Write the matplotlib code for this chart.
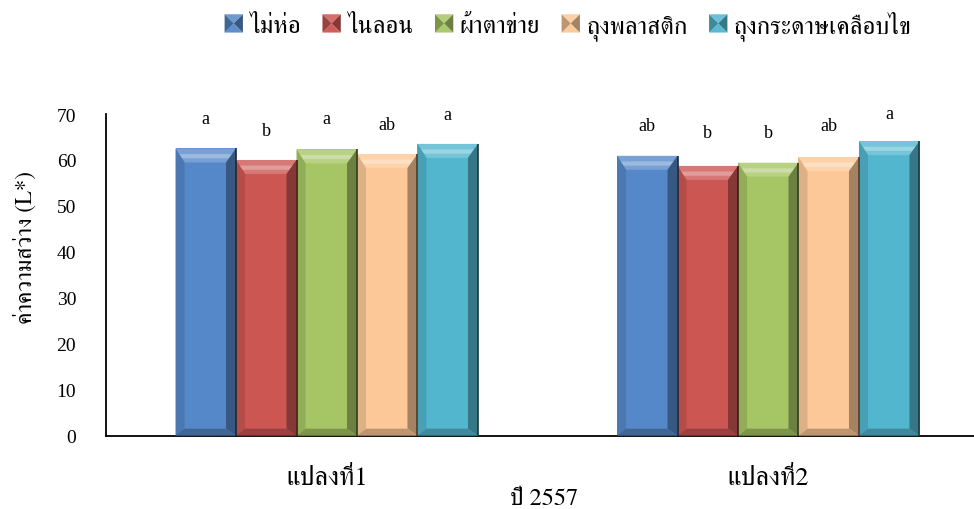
import matplotlib
matplotlib.use("Agg")
import matplotlib.pyplot as plt
import numpy as np
from matplotlib.patches import Polygon, Rectangle
from matplotlib.legend_handler import HandlerBase
from matplotlib.colors import to_rgb

# ---------------- data ----------------
categories = ['แปลงที่1', 'แปลงที่2']
series = ['ไม่ห่อ', 'ไนลอน', 'ผ้าตาข่าย', 'ถุงพลาสติก', 'ถุงกระดาษเคลือบไข']
v_nowrap = [62.5, 60.9]
v_nylon = [60.0, 58.7]
v_mesh = [62.3, 59.4]
v_plastic = [61.3, 60.6]
v_waxpaper = [63.5, 64.1]
values = [v_nowrap, v_nylon, v_mesh, v_plastic, v_waxpaper]
letters = [['a', 'ab'], ['b', 'b'], ['a', 'b'], ['ab', 'ab'], ['a', 'a']]
letter_y = [[69.1, 67.4], [66.5, 65.9], [69.1, 65.9], [67.8, 67.4], [70.0, 70.2]]
yticks = [0, 10, 20, 30, 40, 50, 60, 70]
ylabel = 'ค่าความสว่าง (L*)'
xlabel = 'ปี 2557'

colors = ['#5588C8', '#CC5652', '#A6C564', '#FCC897', '#52B6CF']

FONT = ['FreeSerif', 'Liberation Serif', 'DejaVu Serif']
LATIN = ['Liberation Serif', 'FreeSerif', 'DejaVu Serif']
plt.rcParams['font.family'] = FONT


def mix(c, other, t):
    c = np.array(to_rgb(c))
    o = np.array(to_rgb(other))
    return tuple(c * (1 - t) + o * t)


fig = plt.figure(figsize=(9.74, 5.10), dpi=100)
W, H = 974, 510
ax = fig.add_axes([106 / W, 73.3 / H, 883 / W, 321.7 / H])

x = np.arange(len(categories))
bw = 0.137
n = len(series)
ax.set_xlim(-0.5, len(categories) - 0.5)
ax.set_ylim(0, 70)

# bevel sizes in pixels -> data units
px_x = (len(categories)) / 883.0
px_y = 70 / 321.7
bx_l, bx_r = 9 * px_x, 10 * px_x
by_t, by_b = 14 * px_y, 7 * px_y

for i, (name, vals, col) in enumerate(zip(series, values, colors)):
    pos = x + (i - (n - 1) / 2) * bw
    bars = ax.bar(pos, vals, width=bw, color=col, edgecolor='none', zorder=2, label=name)
    for b, lab, ly in zip(bars, letters[i], letter_y[i]):
        x0, w, h = b.get_x(), b.get_width(), b.get_height()
        x1 = x0 + w
        top = Polygon([(x0, h), (x1, h), (x1 - bx_r, h - by_t), (x0 + bx_l, h - by_t)],
                      closed=True, facecolor=mix(col, 'white', 0.2), edgecolor='none', zorder=3)
        topline = Polygon([(x0 + bx_l * 0.4, h - by_t * 0.4), (x1 - bx_r * 0.4, h - by_t * 0.4),
                           (x1 - bx_r * 0.7, h - by_t * 0.7), (x0 + bx_l * 0.7, h - by_t * 0.7)],
                          closed=True, facecolor=mix(col, 'white', 0.42), edgecolor='none', zorder=3)
        left = Polygon([(x0, 0), (x0, h), (x0 + bx_l, h - by_t), (x0 + bx_l, by_b)],
                       closed=True, facecolor=mix(col, 'black', 0.12), edgecolor='none', zorder=3)
        right = Polygon([(x1, 0), (x1, h), (x1 - bx_r, h - by_t), (x1 - bx_r, by_b)],
                        closed=True, facecolor=mix(col, 'black', 0.35), edgecolor='none', zorder=3)
        bottom = Polygon([(x0, 0), (x1, 0), (x1 - bx_r, by_b), (x0 + bx_l, by_b)],
                         closed=True, facecolor=mix(col, 'black', 0.25), edgecolor='none', zorder=3)
        for p in (top, topline, left, right, bottom):
            ax.add_patch(p)
        ax.plot([x1, x1], [0, h], color=mix(col, 'black', 0.7), lw=1.2, zorder=4,
                solid_capstyle='butt')
        ax.text(b.get_x() + w / 2, ly, lab, ha='center', va='center', fontsize=13,
                family=LATIN, color='black', zorder=5)

ax.set_yticks(yticks)
ax.set_yticklabels([str(t) for t in yticks], family=LATIN, fontsize=14)
ax.tick_params(axis='y', length=0, pad=21.5)
ax.set_xticks(x)
ax.set_xticklabels(categories, fontsize=19)
ax.tick_params(axis='x', length=0, pad=22)

for s in ('top', 'right'):
    ax.spines[s].set_visible(False)
ax.spines['left'].set_linewidth(1.3)
ax.spines['bottom'].set_linewidth(1.3)

fig.text(25 / W, 1 - 248 / H, ylabel, rotation=90, ha='center', va='center', fontsize=16.5)
fig.text(544 / W, 1 - 499 / H, xlabel, ha='center', va='center', fontsize=17.5)


class BevelHandler(HandlerBase):
    def __init__(self, color):
        super().__init__()
        self.color = color

    def create_artists(self, legend, orig_handle, xdescent, ydescent, width, height, fontsize, trans):
        s = min(width, height)
        x0 = -xdescent + (width - s) / 2
        y0 = -ydescent + (height - s) / 2
        c = self.color
        cx, cy = x0 + s / 2, y0 + s / 2
        arts = []
        pts = {
            'top': [(x0, y0 + s), (x0 + s, y0 + s), (cx, cy)],
            'bottom': [(x0, y0), (x0 + s, y0), (cx, cy)],
            'left': [(x0, y0), (x0, y0 + s), (cx, cy)],
            'right': [(x0 + s, y0), (x0 + s, y0 + s), (cx, cy)],
        }
        shade = {'top': mix(c, 'white', 0.15), 'bottom': mix(c, 'white', 0.05),
                 'left': mix(c, 'black', 0.25), 'right': mix(c, 'black', 0.35)}
        for k, p in pts.items():
            arts.append(Polygon(p, closed=True, facecolor=shade[k], edgecolor='none', transform=trans))
        return arts


handles = [Rectangle((0, 0), 1, 1, color=c) for c in colors]
hmap = {h: BevelHandler(c) for h, c in zip(handles, colors)}
fig.legend(handles, series, handler_map=hmap, loc='center', bbox_to_anchor=(568 / W, 1 - 26 / H),
           ncol=5, frameon=False, fontsize=18, handlelength=0.75, handleheight=0.75,
           handletextpad=0.25, columnspacing=0.85, borderaxespad=0)

fig.savefig('out.png', dpi=100)
